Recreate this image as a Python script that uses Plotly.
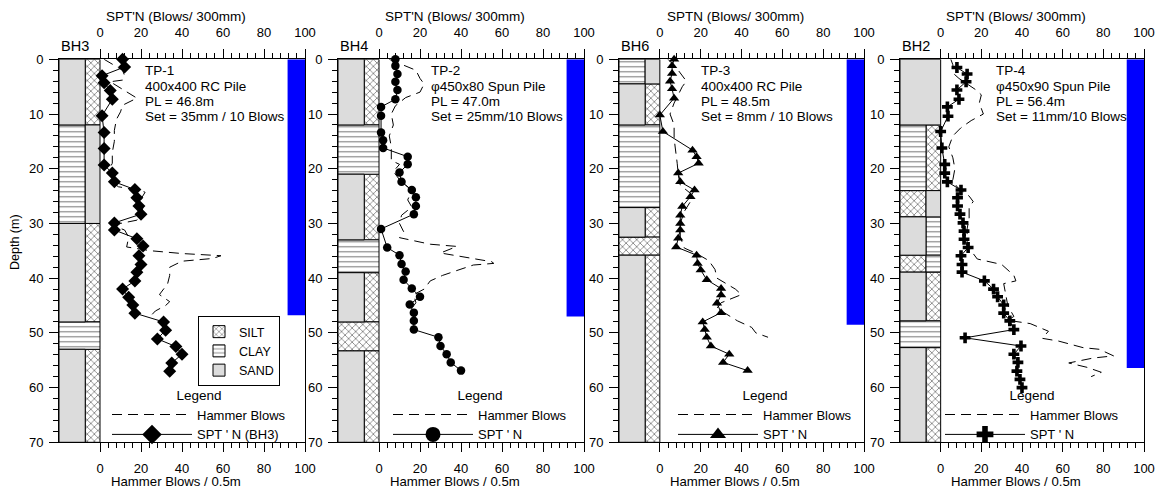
import plotly.graph_objects as go

W, H = 1156, 488
FONT = "Liberation Sans, Arial, sans-serif"

# ---------------- borehole / pile information ----------------
boreholes = ["BH3", "BH4", "BH6", "BH2"]
pile_ids = ["TP-1", "TP-2", "TP-3", "TP-4"]
pile_types = ["400x400 RC Pile", "\u03c6450x80 Spun Pile", "400x400 RC Pile", "\u03c6450x90 Spun Pile"]
pile_lengths = [46.8, 47.0, 48.5, 56.4]
pile_sets = ["35mm / 10 Blows", "25mm/10 Blows", "8mm / 10 Blows", "11mm/10 Blows"]
spt_titles = ["SPT'N (Blows/ 300mm)", "SPT'N (Blows/ 300mm)", "SPTN (Blows/ 300mm)", "SPT'N (Blows/ 300mm)"]
spt_names = ["SPT ' N (BH3)", "SPT ' N", "SPT ' N", "SPT ' N"]
spt_symbols = ["diamond", "circle", "triangle-up", "cross"]
spt_sizes = [10, 8.5, 9, 9]
spt_key_sizes = [15, 15, 14, 14]
soil_types = ["SILT", "CLAY", "SAND"]

depth_ticks = [0, 10, 20, 30, 40, 50, 60, 70]
blow_ticks = [0, 20, 40, 60, 80, 100]

# ---------------- stratigraphy (left / right sub-columns) ----------------
bh3_top = [0, 12, 30, 48, 53]
bh3_bot = [12, 30, 48, 53, 70]
bh3_left = ["SAND", "CLAY", "SAND", "CLAY", "SAND"]
bh3_right = ["SILT", "SAND", "SILT", "CLAY", "SILT"]

bh4_top = [0, 12, 21, 33, 39, 48, 53.3]
bh4_bot = [12, 21, 33, 39, 48, 53.3, 70]
bh4_left = ["SAND", "CLAY", "SAND", "CLAY", "SAND", "SILT", "SAND"]
bh4_right = ["SILT", "CLAY", "SILT", "CLAY", "SILT", "SILT", "SILT"]

bh6_top = [0, 4.5, 12, 27.1, 32.5, 35.8]
bh6_bot = [4.5, 12, 27.1, 32.5, 35.8, 70]
bh6_left = ["CLAY", "SAND", "CLAY", "SAND", "SILT", "SAND"]
bh6_right = ["SAND", "SILT", "CLAY", "SILT", "SILT", "SILT"]

bh2_top = [0, 12, 24, 28.8, 35.8, 38.9, 47.8, 52.7]
bh2_bot = [12, 24, 28.8, 35.8, 38.9, 47.8, 52.7, 70]
bh2_left = ["SAND", "CLAY", "SILT", "SAND", "SILT", "SAND", "CLAY", "SAND"]
bh2_right = ["SAND", "SILT", "SAND", "CLAY", "CLAY", "SILT", "CLAY", "SILT"]

# ---------------- SPT N values ----------------
spt1_depth = [0, 1.4, 3, 4.3, 5.7, 7.3, 10.3, 13.4, 16.3, 19.3, 20.8, 22.4, 23.8, 25.3, 26.8, 28.3,
              29.9, 31.2, 32.8, 34.1, 35.9, 37.5, 38.9, 40.5, 42, 43.5, 44.9, 46.4, 48, 49.5, 51.1,
              52.5, 53.9, 55.5, 57]
spt1_n = [11, 12, 1, 2, 5, 6, 1, 2, 2, 2, 6, 7, 17, 18, 19, 20, 7, 7, 18, 21, 19, 20, 18, 17, 11, 14,
          16, 17, 31, 32, 28, 37, 40, 35, 34]

spt2_depth = [0, 1.2, 2.7, 4.1, 5.6, 7.3, 8.7, 10.3, 13.4, 14.8, 16.2, 17.8, 19.2, 20.7, 22.4, 23.9,
              25.2, 26.8, 28.3, 31.0, 34.4, 35.8, 37.4, 38.8, 40.3, 41.9, 43.4, 44.8, 46.3, 47.8, 49.4,
              50.8, 52.4, 53.9, 55.4, 56.9]
spt2_n = [8, 8, 9, 8, 9, 8, 1, 1, 1, 2, 2, 14, 14, 10, 11, 16, 18, 18, 17, 1, 4, 10, 11, 13, 12, 16,
          20, 15, 17, 17, 17, 29, 30, 33, 35, 40]

spt3_depth = [0, 1.2, 2.6, 4, 5.4, 7.1, 10.2, 13.2, 16.6, 17.8, 19, 20.8, 22.4, 23.9, 25.1, 26.9,
              28.5, 30, 31.2, 32.7, 34.3, 35.8, 37.3, 38.5, 40.3, 41.9, 43.1, 44.6, 46.3, 48, 49.4,
              50.8, 52.4, 53.9, 55.4, 56.9]
spt3_n = [7, 6, 6, 5, 6, 7, 0, 1.5, 16, 18, 19, 9, 10, 17, 15, 11, 10, 10, 10, 9, 8, 18, 18.5, 20,
          23, 30, 30, 28, 30, 21, 22, 23, 25, 34, 31, 43]

spt4_depth = [1.5, 2.7, 4.1, 5.6, 7.3, 8.7, 10.4, 13.2, 16.2, 19.2, 20.8, 22.4, 23.9, 25.3, 26.8,
              28.3, 29.9, 31.4, 32.9, 34.4, 35.9, 37.5, 38.9, 40.5, 42, 43.4, 44.9, 46.4, 47.8, 49.4,
              50.9, 52.4, 53.9, 55.4, 57, 58.5, 60]
spt4_n = [8, 13, 12.5, 8, 9, 3.3, 3.6, 0, 0.6, 2, 2, 3.3, 10, 8.3, 8.3, 9.5, 11, 11.5, 11.5, 13.5,
          10, 10.5, 10.5, 21.5, 26, 28, 31, 31, 34, 36, 12, 39.5, 36, 38, 37.5, 39, 40]

# ---------------- hammer blows per 0.5 m of driving ----------------
hb1_depth = [0, 0.7, 2, 3, 3.8, 4.1, 5, 6.2, 7.1, 8.4, 9.6, 11, 13, 15, 17, 19, 20.5, 21.5, 22.5,
             23.3, 24, 24.3, 25.5, 27, 28.5, 29.4, 30, 30.5, 31.2, 32.5, 34.3, 35, 35.5, 35.9, 36.4,
             36.9, 38, 39.5, 41, 43, 44.3, 45, 46, 46.8]
hb1_n = [2, 5, 11, 12, 11, 5, 9, 14, 18, 11, 10, 8, 7, 7, 6, 6, 4, 7, 6, 9, 20, 22, 20, 21, 20, 18,
         10, 7, 12, 14, 13, 25, 40, 59, 55, 40, 34, 34, 33, 29, 34, 32, 27, 25]

hb2_depth = [0, 1, 2, 3.5, 4.5, 6, 7, 8.5, 10, 12, 14, 16, 18.5, 19.2, 20.5, 22, 24, 25.7, 27, 28.5,
             30, 31.5, 32.6, 33.8, 34.2, 35.4, 36, 37, 37.3, 37.6, 38.6, 39.5, 40.5, 42, 43, 44.5,
             46, 47]
hb2_n = [5, 12, 18, 20, 22, 20, 13, 8, 6, 7, 5, 6, 6, 10, 7, 10, 16, 14, 16, 11, 10, 12, 10, 25, 38,
         30, 40, 55, 56, 46, 38, 31, 25, 22, 17, 18, 15, 18]

hb3_depth = [0, 1.5, 2.5, 4, 5, 6.5, 8, 10, 12, 14.5, 17, 19, 21, 23, 24.5, 26, 27.8, 30, 32.5,
             34.5, 35.5, 36.8, 38.4, 40, 42, 43, 44.5, 45.5, 47.8, 49, 50, 50.8]
hb3_n = [4, 8, 10, 13, 11, 9, 7, 5, 7, 7, 8, 8.5, 9, 10, 15, 15, 12, 10, 10, 12, 18, 24, 27, 28, 37,
         40, 30, 28, 38, 45, 47, 53]

hb4_depth = [0, 1, 2.5, 3.5, 5.5, 6.5, 8, 10, 11.2, 12.5, 14, 16, 18, 20, 22, 23.3, 25, 26, 27, 29,
             31, 34, 36.5, 37.5, 39.5, 40.5, 41, 43, 45, 47, 47.7, 48.3, 49.7, 51, 51.5, 52.7, 53,
             54.2, 54.6, 55.5, 56.3, 57.2, 58]
hb4_n = [5, 6, 6, 9, 17, 20, 19, 21, 15, 10, 6, 4, 6, 7, 6, 8, 14, 16, 14, 14, 13, 13, 18, 30, 36,
         37, 31, 32, 33, 36, 33, 44, 53, 50, 58, 70, 78, 85, 75, 63, 72, 79, 74]

strata = [
    (bh3_top, bh3_bot, bh3_left, bh3_right),
    (bh4_top, bh4_bot, bh4_left, bh4_right),
    (bh6_top, bh6_bot, bh6_left, bh6_right),
    (bh2_top, bh2_bot, bh2_left, bh2_right),
]
spt_depths = [spt1_depth, spt2_depth, spt3_depth, spt4_depth]
spt_values = [spt1_n, spt2_n, spt3_n, spt4_n]
hb_depths = [hb1_depth, hb2_depth, hb3_depth, hb4_depth]
hb_values = [hb1_n, hb2_n, hb3_n, hb4_n]

# ---------------- geometry ----------------
PANEL_PX = [(59, 305), (338, 584), (619, 864), (900, 1144)]
Y_TOP_PX, Y_BOT_PX = 59.3, 442.3
X_MIN, X_SPLIT, X_MAX = -20, -7.2, 100
PILE_X0, PILE_X1 = 91.5, 100
HAMMER_DASH = "10px,6px"


def fx(p):
    return p / W


def fy(p):
    return 1 - p / H


SOIL_MARKER = {
    "SILT": dict(color="white", line=dict(color="black", width=1),
                 pattern=dict(shape="x", fgcolor="black", size=5, solidity=0.3)),
    "CLAY": dict(color="white", line=dict(color="black", width=1),
                 pattern=dict(shape="-", fgcolor="black", size=5, solidity=0.22)),
    "SAND": dict(color="#dcdcdc", line=dict(color="black", width=1)),
}


def note(text, xref, x, ypx, size=13.5, xanchor="center", **kw):
    return dict(text=text, xref=xref, x=x, xanchor=xanchor, yref="paper", y=fy(ypx),
                yanchor="middle", showarrow=False, font=dict(size=size), **kw)


fig = go.Figure()
annotations = []
layout = {}

minor_x = [v for v in range(0, 101, 4) if v % 20]
minor_y = [v for v in range(0, 71, 2) if v % 10]

for k in range(4):
    xb = "x" if k == 0 else f"x{k + 1}"
    xt = f"x{k + 5}"
    ya = "y" if k == 0 else f"y{k + 1}"
    lg = f"legend{k + 2}"

    # soil column
    segs = {s: [] for s in soil_types}
    top_l, bot_l, left_l, right_l = strata[k]
    for top, bot, lft, rgt in zip(top_l, bot_l, left_l, right_l):
        if lft == rgt:
            segs[lft].append(((X_MIN + 0) / 2, 0 - X_MIN, top, bot - top))
        else:
            segs[lft].append(((X_MIN + X_SPLIT) / 2, X_SPLIT - X_MIN, top, bot - top))
            segs[rgt].append(((X_SPLIT + 0) / 2, 0 - X_SPLIT, top, bot - top))
    for soil in soil_types:
        s = segs[soil]
        if not s:
            continue
        fig.add_trace(go.Bar(
            x=[a[0] for a in s], width=[a[1] for a in s], base=[a[2] for a in s],
            y=[a[3] for a in s], name=soil, marker=SOIL_MARKER[soil],
            xaxis=xb, yaxis=ya, legend="legend", showlegend=(k == 0), hoverinfo="skip",
        ))

    # pile penetration bar
    fig.add_trace(go.Bar(
        x=[(PILE_X0 + PILE_X1) / 2], width=[PILE_X1 - PILE_X0], base=[0], y=[pile_lengths[k]],
        marker=dict(color="#0000ff", line=dict(width=0)), xaxis=xb, yaxis=ya,
        showlegend=False, name=pile_ids[k],
    ))

    # hammer blows
    fig.add_trace(go.Scatter(
        x=hb_values[k], y=hb_depths[k], mode="lines", name="Hammer Blows",
        line=dict(color="black", width=1, dash=HAMMER_DASH),
        xaxis=xb, yaxis=ya, legend=lg, cliponaxis=False,
    ))
    # SPT N (plotted against the top axis)
    fig.add_trace(go.Scatter(
        x=spt_values[k], y=spt_depths[k], mode="lines+markers", name=spt_names[k],
        line=dict(color="black", width=1),
        marker=dict(symbol=spt_symbols[k], size=spt_sizes[k], color="black"),
        xaxis=xt, yaxis=ya, showlegend=False, cliponaxis=False,
    ))
    # legend key for SPT N with an enlarged symbol
    fig.add_trace(go.Scatter(
        x=[None], y=[None], mode="lines+markers", name=spt_names[k],
        line=dict(color="black", width=1),
        marker=dict(symbol=spt_symbols[k], size=spt_key_sizes[k], color="black"),
        xaxis=xt, yaxis=ya, legend=lg,
    ))

    dom = [fx(PANEL_PX[k][0]), fx(PANEL_PX[k][1])]
    xcommon = dict(
        range=[X_MIN, X_MAX], tickmode="array", tickvals=blow_ticks,
        ticks="outside", ticklen=9, tickwidth=1, tickcolor="black",
        showline=True, linecolor="black", linewidth=1, showgrid=False, zeroline=False,
        tickfont=dict(size=13),
        minor=dict(tickmode="array", tickvals=minor_x, ticks="outside", ticklen=5,
                   tickcolor="black", tickwidth=1, showgrid=False),
    )
    layout["xaxis" if k == 0 else f"xaxis{k + 1}"] = dict(
        domain=dom, anchor=ya, side="bottom", ticklabelstandoff=5, **xcommon)
    layout[f"xaxis{k + 5}"] = dict(
        overlaying=xb, anchor=ya, side="top", ticklabelstandoff=7, **xcommon)
    layout["yaxis" if k == 0 else f"yaxis{k + 1}"] = dict(
        domain=[fy(Y_BOT_PX), fy(Y_TOP_PX)], anchor=xb, range=[70, 0],
        tickmode="array", tickvals=depth_ticks, ticks="outside", ticklen=9, tickwidth=1,
        tickcolor="black", showline=True, mirror=True, linecolor="black", linewidth=1,
        showgrid=False, zeroline=False, tickfont=dict(size=13), ticklabelstandoff=3,
        minor=dict(tickmode="array", tickvals=minor_y, ticks="outside", ticklen=5,
                   tickcolor="black", tickwidth=1, showgrid=False),
    )

    # per-panel legend
    leg_x = [107, 388, 673, 940][k]
    layout[lg] = dict(
        x=fx(leg_x), y=fy(382), xanchor="left", yanchor="top",
        title=dict(text="Legend", side="top center", font=dict(size=13.5)),
        itemwidth=80, bgcolor="rgba(0,0,0,0)", itemsizing="trace",
        font=dict(size=13), tracegroupgap=0,
    )

    # axis titles and labels
    annotations.append(note(spt_titles[k], xb, 37, 16))
    annotations.append(note("Hammer Blows / 0.5m", xb, 37, 481.5, size=13.2))
    annotations.append(note(boreholes[k], xb, -12, 46, size=14.5))
    text_x = [21, 24.5, 19, 26][k]
    lines = [pile_ids[k], pile_types[k], f"PL = {pile_lengths[k]:.1f}m", f"Set = {pile_sets[k]}"]
    for line, ypx in zip(lines, [71, 86.5, 101.5, 116.5]):
        annotations.append(note(line, xb, text_x, ypx, xanchor="left"))

annotations.append(dict(text="Depth (m)", xref="paper", x=fx(15), xanchor="center",
                        yref="paper", y=fy(242), yanchor="middle", textangle=-90,
                        showarrow=False, font=dict(size=12.5)))

layout["legend"] = dict(
    x=fx(198), y=fy(316), xanchor="left", yanchor="top", bordercolor="black", borderwidth=1,
    bgcolor="white", font=dict(size=12.5), traceorder="normal",
)

fig.update_layout(
    width=W, height=H, margin=dict(l=0, r=0, t=0, b=0, autoexpand=False),
    plot_bgcolor="white", paper_bgcolor="white",
    font=dict(family=FONT, size=13, color="black"),
    barmode="overlay", annotations=annotations, **layout,
)

fig.write_html("out.html")
